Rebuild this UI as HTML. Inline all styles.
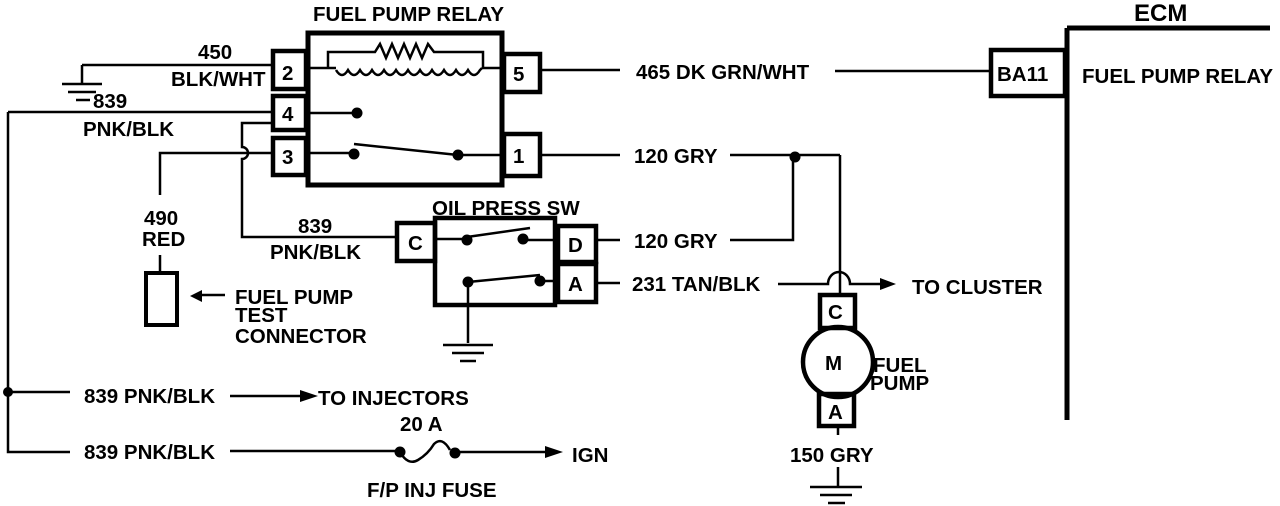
<!DOCTYPE html>
<html><head><meta charset="utf-8"><style>
html,body{margin:0;padding:0;background:#fff;width:1280px;height:506px;overflow:hidden}
svg text{font-family:"Liberation Sans",sans-serif;font-weight:bold;font-size:20.5px;fill:#000}
</style></head><body>
<svg width="1280" height="506" viewBox="0 0 1280 506" xmlns="http://www.w3.org/2000/svg">
<g stroke="#000" fill="none" stroke-width="2.5">
<rect x="308" y="33" width="194" height="152" stroke-width="5"/>
<rect x="273" y="51" width="33" height="38" stroke-width="4.5"/>
<rect x="273" y="96" width="33" height="34" stroke-width="4.5"/>
<rect x="273" y="138" width="33" height="37" stroke-width="4.5"/>
<rect x="504" y="54" width="36" height="38" stroke-width="4.5"/>
<rect x="504" y="134" width="36" height="42" stroke-width="4.5"/>
<path d="M310 68 H336 M482 68 H504"/>
<path d="M328 68 V52 H375 L380 44 L386 58 L392 44 L398 58 L404 44 L410 58 L416 44 L422 58 L428 44 L434 52 H483 V68"/>
<path d="M336 70 q6 10 12 0 q6 10 12 0 q6 10 12 0 q6 10 12 0 q6 10 12 0 q6 10 12 0 q6 10 12 0 q6 10 12 0 q6 10 12 0 q6 10 12 0 q6 10 12 0 q6 10 12 0 L482 68"/>
<path d="M308 113 H357 M308 153 H352 M354 144 L458 155 M458 155 H504"/>
<path d="M82 65 H273 M82 65 V84"/>
<path d="M62 84 H102 M68 92 H96 M76 100 H90"/>
<path d="M8 112 H273 M8 112 V452 H70 M8 392 H70"/>
<path d="M273 123 H242 V147 a6 6 0 0 1 0 12 V237 H397"/>
<path d="M273 153 H160 V195 M160 255 V272"/>
<rect x="146" y="273" width="31" height="52" stroke-width="4"/>
<path d="M225 295 H198"/>
<rect x="435" y="218" width="120" height="87" stroke-width="4.5"/>
<rect x="397" y="223" width="38" height="38" stroke-width="4.5"/>
<rect x="558" y="226" width="38" height="36" stroke-width="4.5"/>
<rect x="558" y="264" width="38" height="38" stroke-width="4.5"/>
<path d="M435 239 H467 M467 237 L530 228 M522 240 H558 M468 282 L540 275 M540 281 H558 M468 280 V343"/>
<path d="M443 345 H493 M452 353 H484 M460 361 H476"/>
<path d="M540 70 H620 M835 71 H990"/>
<rect x="991" y="50" width="74" height="46" stroke-width="4.5"/>
<path d="M1067 28 V420 M1067 28 H1270" stroke-width="5"/>
<path d="M540 155 H620 M730 155 H840"/>
<path d="M730 240 H793 V157"/>
<path d="M597 240 H620 M597 283 H620"/>
<path d="M778 284 H828 a11 12 0 0 1 22 0 H880"/>
<path d="M840 155 V296"/>
<rect x="820" y="295" width="35" height="33" stroke-width="4.5"/>
<circle cx="838" cy="362" r="35" stroke-width="4.5"/>
<rect x="819" y="394" width="35" height="32" stroke-width="4.5"/>
<path d="M838 426 V435 M838 467 V486 M810 487 H862 M820 495 H852 M828 503 H845"/>
<path d="M230 396 H305 M230 451 H400 M455 452 H545"/>
<path d="M400 452 q8 14 18 8 q10 -6 16 -16 q8 -8 16 6"/>
</g>
<g fill="#000">
<circle cx="357" cy="113" r="5.5"/><circle cx="354" cy="154" r="5.5"/><circle cx="458" cy="155" r="5.5"/>
<circle cx="467" cy="240" r="5.5"/><circle cx="523" cy="239" r="5.5"/><circle cx="468" cy="282" r="5.5"/><circle cx="540" cy="281" r="5.5"/>
<circle cx="795" cy="157" r="5.5"/><circle cx="8" cy="392" r="5"/>
<circle cx="400" cy="452" r="5.5"/><circle cx="455" cy="453" r="5.5"/>
<path d="M880 278 L896 284 L880 290 Z"/>
<path d="M300 390 L318 396 L300 402 Z"/>
<path d="M545 446 L563 452 L545 458 Z"/>
<path d="M190 296 L202 290 L202 302 Z"/>
</g>
<text x="313" y="21">FUEL PUMP RELAY</text>
<text x="198" y="59">450</text>
<text x="171" y="86">BLK/WHT</text>
<text x="93" y="108">839</text>
<text x="83" y="136">PNK/BLK</text>
<text x="282" y="80">2</text><text x="282" y="121">4</text><text x="282" y="164">3</text>
<text x="513" y="81">5</text><text x="513" y="163">1</text>
<text x="298" y="233">839</text>
<text x="270" y="259">PNK/BLK</text>
<text x="144" y="225">490</text>
<text x="142" y="246">RED</text>
<text x="235" y="304">FUEL PUMP</text>
<text x="235" y="322">TEST</text>
<text x="235" y="343">CONNECTOR</text>
<text x="432" y="215">OIL PRESS SW</text>
<text x="408" y="250">C</text><text x="568" y="252">D</text><text x="568" y="291">A</text>
<text x="636" y="79">465 DK GRN/WHT</text>
<text x="997" y="81">BA11</text>
<text x="1134" y="21" style="font-size:24px">ECM</text>
<text x="1082" y="83">FUEL PUMP  RELAY</text>
<text x="634" y="163">120 GRY</text>
<text x="634" y="248">120 GRY</text>
<text x="632" y="291">231 TAN/BLK</text>
<text x="912" y="294">TO CLUSTER</text>
<text x="828" y="319">C</text>
<text x="825" y="370">M</text>
<text x="873" y="372">FUEL</text>
<text x="870" y="390">PUMP</text>
<text x="828" y="419">A</text>
<text x="790" y="462">150 GRY</text>
<text x="84" y="403">839 PNK/BLK</text>
<text x="318" y="405">TO INJECTORS</text>
<text x="400" y="431">20 A</text>
<text x="84" y="459">839 PNK/BLK</text>
<text x="572" y="462">IGN</text>
<text x="367" y="497">F/P INJ FUSE</text>
</svg>
</body></html>
